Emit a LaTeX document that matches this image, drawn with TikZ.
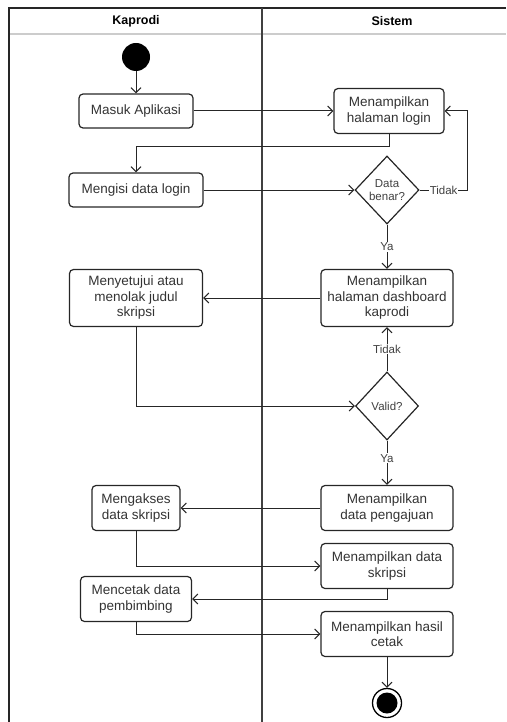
\documentclass[tikz,border=0pt]{standalone}
\usepackage{fontspec}
\setmainfont{Liberation Sans}
\usetikzlibrary{arrows.meta,shapes.geometric}

\begin{document}
\begin{tikzpicture}[x=1pt,y=-1pt,
 >={Straight Barb[length=5pt,width=10pt]},
 act/.style={draw=black!85,line width=1.2pt,rounded corners=4pt,align=center,text=black!80,
  font=\fontsize{13.5}{15.5}\selectfont,inner sep=2pt},
 choice/.style={draw=black!85,line width=1.2pt,diamond,inner sep=0pt,align=center,text=black!75,
  font=\fontsize{11.5}{13.5}\selectfont,minimum width=64pt,minimum height=68pt},
 lbl/.style={fill=white,inner sep=1pt,text=black!75,font=\fontsize{11.5}{13.5}\selectfont},
 flow/.style={line width=1pt,draw=black!85,->}]
\useasboundingbox (0,0) rectangle (506,722);
% swimlanes
\draw[line width=1.8pt,black!20] (9,34)--(506,34);
\draw[line width=1.3pt,black!85] (9,722)--(9,8)--(506,8);
\draw[line width=1.3pt,black!75] (262,8)--(262,722);
\node[font=\fontsize{12.5}{14}\selectfont\bfseries] (lane1) at (136,21) {Kaprodi};
\node[font=\fontsize{12.5}{14}\selectfont\bfseries] (lane2) at (392,21) {Sistem};
% nodes
\node[circle,fill=black,minimum size=28pt,inner sep=0pt] (start) at (136,57) {};
\node[act,minimum width=114pt,minimum height=34pt] (masuk) at (136,111) {Masuk Aplikasi};
\node[act,minimum width=110pt,minimum height=45pt] (login) at (389,111) {Menampilkan\\halaman login};
\node[act,minimum width=134pt,minimum height=34pt] (isi) at (136,190) {Mengisi data login};
\node[choice] (cek) at (387,190) {Data\\benar?};
\node[act,minimum width=132pt,minimum height=57pt] (dash) at (387,298) {Menampilkan\\halaman dashboard\\kaprodi};
\node[act,minimum width=133pt,minimum height=57pt] (setuju) at (136,298) {Menyetujui atau\\menolak judul\\skripsi};
\node[choice,minimum width=63pt] (valid) at (387,406) {Valid?};
\node[act,minimum width=132pt,minimum height=45pt] (ajuan) at (387,508) {Menampilkan\\data pengajuan};
\node[act,minimum width=88pt,minimum height=45pt] (akses) at (136,508) {Mengakses\\data skripsi};
\node[act,minimum width=132pt,minimum height=45pt] (skripsi) at (387,566) {Menampilkan data\\skripsi};
\node[act,minimum width=111pt,minimum height=45pt] (cetak) at (136,599) {Mencetak data\\pembimbing};
\node[act,minimum width=132pt,minimum height=45pt] (hasil) at (387,634) {Menampilkan hasil\\cetak};
\node[circle,draw=black,line width=1.3pt,minimum size=29pt,inner sep=0pt] (end) at (387,703) {};
\node[circle,fill=black,minimum size=21pt,inner sep=0pt] (endin) at (end) {};
% flows
\draw[flow] (start)--(masuk);
\draw[flow] (masuk)--(login);
\draw[flow] (login.south)--++(0,12)-|(isi.north);
\draw[flow] (isi)--(cek);
\draw[flow] (cek.east)--node[lbl]{Tidak}++(48,0)|-(login.east);
\draw[flow] (cek.south)--node[lbl]{Ya}(dash.north);
\draw[flow] (dash)--(setuju);
\draw[flow] (setuju.south)|-(valid.west);
\draw[flow] (valid.north)--node[lbl]{Tidak}(dash.south);
\draw[flow] (valid.south)--node[lbl,pos=.4]{Ya}(ajuan.north);
\draw[flow] (ajuan)--(akses);
\draw[flow] (akses.south)|-(skripsi.west);
\draw[flow] (skripsi.south)|-(cetak.east);
\draw[flow] (cetak.south)|-(hasil.west);
\draw[flow] (hasil)--(end);
\end{tikzpicture}
\end{document}
